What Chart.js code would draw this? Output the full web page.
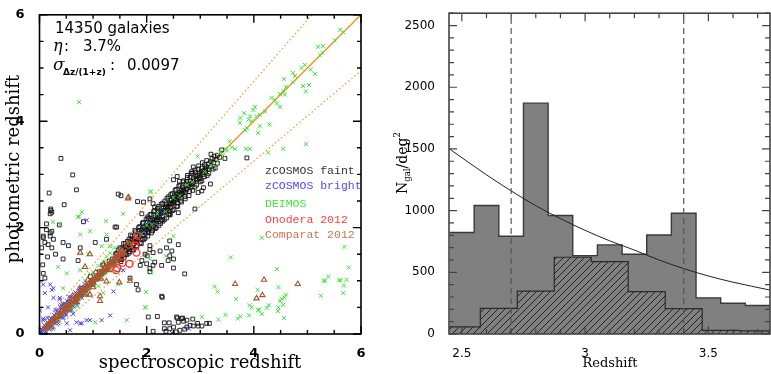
<!DOCTYPE html>
<html>
<head>
<meta charset="utf-8">
<script src="https://cdn.jsdelivr.net/npm/chart.js@4.4.0/dist/chart.umd.min.js"></script>
<style>
  html, body { margin: 0; padding: 0; background: #fff; }
  #wrap { position: relative; width: 771px; height: 374px; }
  #zChart { position: absolute; left: 0; top: 0; }
  #histChart { position: absolute; left: 380px; top: 0; }
</style>
</head>
<body>
<div id="wrap">
  <canvas id="zChart" width="372" height="374"></canvas>
  <canvas id="histChart" width="391" height="374"></canvas>
</div>
<script>
// ---- left panel : photo-z vs spec-z ----

const nGal = 14350;
const etaPct = 3.7;
const sigmaNmad = 0.0097;
const etaCut = 0.15;

const zTicks = [0, 2, 4, 6];

// zCOSMOS faint (open squares)
const zcosmosFaint = [
  [1.36,1.41],[1.39,1.30],[1.42,1.50],[1.45,1.38],[1.47,1.58],[1.50,1.46],[1.52,1.36],[1.54,1.62],[1.56,1.52],[1.58,1.44],
  [1.60,1.70],[1.62,1.58],[1.63,1.49],[1.65,1.66],[1.67,1.78],[1.68,1.55],[1.70,1.72],[1.72,1.63],[1.73,1.84],[1.75,1.70],
  [1.76,1.58],[1.78,1.80],[1.79,1.92],[1.81,1.74],[1.82,1.66],[1.84,1.88],[1.85,1.79],[1.87,2.02],[1.88,1.84],[1.90,1.70],
  [1.91,1.95],[1.93,1.86],[1.94,2.10],[1.96,1.93],[1.97,1.80],[1.99,2.04],[2.00,1.96],[2.02,2.20],[2.03,1.90],[2.05,2.08],
  [2.06,1.98],[2.08,2.25],[2.09,2.05],[2.11,1.94],[2.12,2.16],[2.14,2.08],[2.15,2.32],[2.17,2.12],[2.18,2.00],[2.20,2.24],
  [2.21,2.15],[2.23,2.40],[2.24,2.20],[2.26,2.08],[2.27,2.30],[2.29,2.22],[2.30,2.46],[2.32,2.28],[2.33,2.15],[2.35,2.38],
  [2.36,2.30],[2.38,2.55],[2.39,2.36],[2.41,2.24],[2.42,2.46],[2.44,2.38],[2.45,2.62],[2.47,2.44],[2.48,2.32],[2.50,2.56],
  [2.51,2.48],[2.53,2.70],[2.54,2.52],[2.56,2.40],[2.57,2.62],[2.59,2.56],[2.60,2.78],[2.62,2.60],[2.63,2.50],[2.65,2.70],
  [2.66,2.64],[2.68,2.86],[2.70,2.68],[2.71,2.58],[2.73,2.80],[2.75,2.72],[2.76,2.94],[2.78,2.78],[2.80,2.68],[2.82,2.88],
  [2.84,2.82],[2.86,3.02],[2.88,2.86],[2.90,2.76],[2.92,2.96],[2.94,2.90],[2.96,3.10],[2.98,2.94],[3.00,2.86],[3.02,3.06],
  [3.05,3.00],[3.08,3.18],[3.10,3.06],[3.13,2.98],[3.16,3.20],[3.19,3.14],[3.22,3.30],[3.25,3.22],[3.28,3.12],[3.32,3.36],
  [3.36,3.32],[3.40,3.46],
  [1.44,1.52],[1.49,1.41],[1.55,1.48],[1.61,1.64],[1.66,1.60],[1.71,1.78],[1.77,1.75],[1.83,1.78],[1.86,1.94],[1.89,1.90],
  [1.92,1.78],[1.95,2.00],[1.98,1.90],[2.01,2.10],[2.04,2.00],[2.07,2.14],[2.10,2.10],[2.13,2.02],[2.16,2.20],[2.19,2.14],
  [2.22,2.30],[2.25,2.26],[2.28,2.14],[2.31,2.36],[2.34,2.32],[2.37,2.44],[2.40,2.40],[2.43,2.30],[2.46,2.52],[2.49,2.48],
  [2.52,2.60],[2.55,2.58],[2.58,2.46],[2.61,2.66],[2.64,2.62],[2.67,2.76],[2.69,2.72],[2.72,2.66],[2.74,2.86],[2.77,2.82],
  [2.81,2.94],[2.83,2.76],[2.87,2.92],[2.91,3.04],[2.95,2.98],[2.99,3.02],[3.03,3.12],[3.07,3.08],[3.11,3.14],[3.15,3.10],
  [3.20,3.24],[3.26,3.34],[3.30,3.28],
  [1.50,1.62],[1.53,1.40],[1.57,1.70],[1.60,1.50],[1.64,1.74],[1.67,1.52],[1.70,1.86],[1.74,1.58],[1.78,1.95],[1.81,1.64],
  [1.85,2.00],[1.88,1.72],[1.92,2.08],[1.95,1.78],[1.99,2.16],[2.02,1.84],[2.06,2.24],[2.09,1.90],[2.13,2.30],[2.16,1.98],
  [2.20,2.36],[2.23,2.04],[2.27,2.44],[2.30,2.12],[2.34,2.50],[2.37,2.18],[2.41,2.58],[2.44,2.24],[2.48,2.64],[2.51,2.34],
  [2.55,2.72],[2.58,2.40],[2.62,2.80],[2.65,2.48],[2.69,2.88],[2.72,2.54],[2.76,2.98],[2.79,2.60],[2.83,3.02],[2.86,2.70],
  [2.90,3.08],[2.93,2.80],[2.97,3.16],[3.00,2.92],[3.04,3.22],[3.08,2.96],[3.12,3.26],[3.16,3.02],[3.20,3.38],[3.24,3.10],
  [1.58,1.60],[1.64,1.64],[1.69,1.68],[1.74,1.76],[1.80,1.79],[1.84,1.84],[1.90,1.91],[1.96,1.97],[2.02,2.02],[2.08,2.08],
  [2.14,2.14],[2.20,2.19],[2.26,2.27],[2.32,2.32],[2.38,2.39],[2.44,2.45],[2.50,2.50],[2.56,2.55],[2.62,2.63],[2.68,2.69],
  [2.74,2.74],[2.80,2.80],[2.86,2.85],[2.92,2.92],[2.98,2.98],[3.04,3.04],[3.10,3.10],
  [0.40,3.30],[0.62,2.99],[0.69,2.71],[0.18,2.65],[0.46,2.43],[0.21,2.32],[0.20,2.26],[0.13,2.07],[0.37,2.05],[1.52,2.60],
  [1.83,2.49],[1.44,2.01],[0.23,1.93],[0.21,2.35],[0.23,2.29],[0.07,1.84],[0.20,1.90],[0.26,1.78],[0.10,1.72],[0.16,1.68],
  [0.23,1.62],[0.04,1.62],[0.82,2.11],[1.47,2.63],[1.81,0.93],[2.28,0.71],[2.56,0.32],[2.65,0.29],[2.75,0.26],[2.81,0.16],
  [2.50,0.13],[2.62,0.07],[2.20,0.33],[2.29,0.69],[2.71,1.13],[2.33,0.21],[2.42,0.21],[2.33,0.10],[2.43,0.10],[2.36,0.05],
  [2.12,0.05],[2.57,0.30],[2.67,0.30],[2.86,0.28],[2.69,0.24],[2.59,0.22],[2.75,0.13],[2.87,0.15],[2.95,0.20],[2.96,0.15],
  [3.03,0.15],[3.12,0.20],[3.17,0.20],[2.71,0.09],[2.55,0.04],
  [2.06,1.59],[2.12,1.53],[2.01,1.47],[2.25,1.56],[2.37,1.62],[2.47,1.56],[2.43,1.47],[2.50,1.41],[2.40,1.38],[1.91,1.38],
  [2.00,1.32],[2.12,1.29],[2.28,1.29],[2.50,1.24],[2.06,1.17],[2.59,1.68],[2.43,1.75],[2.90,2.35],[2.03,1.93],[2.06,1.66],
  [1.97,1.50],[1.88,1.29],[1.69,1.05],[2.06,1.23],[2.15,1.35],[1.84,0.83],
  [1.41,2.01],[1.25,1.78],[1.04,1.72],[0.76,1.62],[0.54,1.66],[0.44,1.72],[0.20,1.84],[0.13,1.96],[0.07,1.81],[0.44,1.41],
  [0.72,1.38],[0.07,1.14],[2.03,0.32],[0.06,1.30],[0.15,1.45],[0.30,1.50],[0.10,1.05],
  [2.50,2.90],[2.57,2.96],[2.61,2.87],[2.87,3.14],[2.84,3.05],[3.03,2.88],[3.19,2.82],[3.06,2.75],[2.96,2.66],[2.62,2.63],
  [2.47,2.45],[2.59,2.28],[2.43,2.26],[3.87,3.31],[3.46,3.30],[3.32,3.21],[1.94,2.48],[2.06,2.54],[2.12,2.45],[1.91,2.26],
  [2.03,2.17],[2.15,2.39],[3.03,2.69],
  [0.55,0.60],[0.80,0.86],[1.00,0.95],[1.12,1.17],[1.22,1.18],[1.30,1.37],[1.18,1.30],[0.95,1.08]
];

// zCOSMOS bright (blue crosses)
const zcosmosBright = [
  [0.02,0.03],[0.04,0.02],[0.05,0.08],[0.07,0.05],[0.08,0.11],[0.10,0.07],[0.11,0.14],[0.13,0.10],[0.14,0.17],[0.16,0.13],
  [0.17,0.20],[0.19,0.16],[0.20,0.24],[0.22,0.19],[0.23,0.27],[0.25,0.22],[0.26,0.30],[0.28,0.25],[0.29,0.34],[0.31,0.28],
  [0.32,0.37],[0.34,0.30],[0.35,0.40],[0.37,0.34],[0.38,0.43],[0.40,0.36],[0.41,0.46],[0.43,0.39],[0.44,0.50],[0.46,0.42],
  [0.47,0.52],[0.49,0.45],[0.50,0.56],[0.52,0.48],[0.54,0.60],[0.56,0.52],[0.58,0.63],[0.60,0.55],[0.62,0.68],[0.64,0.60],
  [0.66,0.72],[0.68,0.63],[0.70,0.76],[0.72,0.67],[0.74,0.80],[0.76,0.72],[0.78,0.84],[0.80,0.76],[0.83,0.88],[0.86,0.82],
  [0.89,0.95],[0.92,0.88],[0.96,1.02],[1.00,0.95],[1.05,1.10],[1.10,1.06],
  [0.03,0.09],[0.06,0.00],[0.09,0.16],[0.12,0.04],[0.15,0.22],[0.18,0.09],[0.21,0.30],[0.24,0.14],[0.27,0.36],[0.30,0.20],
  [0.33,0.44],[0.36,0.26],[0.39,0.50],[0.42,0.31],[0.45,0.56],[0.48,0.37],[0.51,0.62],[0.55,0.44],[0.59,0.70],[0.63,0.52],
  [0.67,0.78],[0.71,0.60],[0.75,0.86],[0.79,0.68],[0.84,0.94],[0.88,0.76],
  [1.80,1.86],[1.95,1.92],[2.05,2.10],[2.30,2.28],[1.52,1.55],
  [0.07,0.93],[0.23,0.83],[0.26,0.68],[0.38,0.65],[0.44,0.56],[0.57,0.44],[0.69,0.22],[0.79,0.20],[0.88,0.26],[0.51,0.20],
  [0.20,0.13],[0.13,0.04],[0.57,0.07],[0.01,0.44],[0.07,0.29],[0.88,2.14],[1.38,0.80],[1.56,1.20],[0.20,0.93],[0.26,0.86],
  [0.10,0.77],[0.38,0.68],[0.63,0.38],[0.76,0.20],[0.94,0.26],[1.16,0.26],[1.32,0.35],[0.16,0.50],[0.07,0.26],[2.79,0.10],
  [2.47,0.02],[0.30,0.45],[0.40,0.55],[0.50,0.36],[0.60,0.45],[0.35,0.20],[0.15,0.30],[0.25,0.10],[0.45,0.30],[0.70,0.55],
  [0.55,0.70]
];

// DEIMOS (green crosses)
const deimos = [
  [0.10,0.08],[0.14,0.16],[0.18,0.15],[0.22,0.24],[0.26,0.22],[0.30,0.31],[0.34,0.30],[0.38,0.38],[0.42,0.39],[0.46,0.47],
  [0.50,0.46],[0.54,0.55],[0.58,0.54],[0.62,0.63],[0.66,0.62],[0.70,0.72],[0.74,0.70],[0.78,0.80],[0.82,0.78],[0.86,0.88],
  [0.90,0.86],[0.95,0.97],[1.00,0.98],[1.05,1.08],[1.10,1.05],[1.16,1.20],[1.22,1.18],[1.28,1.33],[1.34,1.30],[1.40,1.46],
  [1.46,1.42],[1.52,1.58],[1.58,1.55],[1.65,1.70],[1.72,1.70],[1.80,1.84],[1.90,1.88],[2.00,2.05],[2.10,2.06],[2.20,2.26],
  [2.35,2.30],[2.50,2.56],[2.62,2.60],[2.75,2.80],[2.85,2.86],
  [0.20,0.12],[0.28,0.20],[0.36,0.28],[0.44,0.36],[0.52,0.44],[0.60,0.52],[0.68,0.60],[0.76,0.68],[0.84,0.76],[0.92,0.84],
  [1.02,0.92],[1.12,1.02],[1.22,1.12],[1.32,1.22],[1.42,1.34],
  [0.85,1.00],[1.00,1.16],[1.10,1.28],[1.20,1.36],[1.25,1.45],[1.32,1.52],[0.95,1.12],[1.40,1.62],[0.60,0.45],[0.70,0.52],
  [0.90,0.74],[1.10,0.90],
  [5.61,5.72],[5.67,5.67],[5.51,5.52],[5.29,5.41],[5.20,5.40],[5.28,5.29],[5.23,5.24],[4.95,5.06],[4.89,5.00],[5.06,4.97],
  [5.14,4.89],[4.73,4.91],[4.77,4.85],[4.56,4.79],[4.73,4.73],[4.92,4.66],[5.03,4.68],[4.97,4.56],[4.60,4.64],[4.55,4.57],
  [4.49,4.51],[4.58,4.50],[4.33,4.44],[4.39,4.40],[4.43,4.33],[4.49,4.27],[4.21,4.18],[4.02,4.27],[3.99,4.21],[4.11,4.12],
  [4.05,4.09],[3.93,4.09],[3.82,4.15],[3.75,4.06],[3.90,4.03],[3.96,4.00],[4.29,3.94],[4.11,3.91],[3.87,3.87],[3.74,3.97],
  [3.84,3.83],[4.08,3.78],[3.85,3.48],[3.93,3.48],[4.27,3.41],[4.55,3.48],[4.97,3.57],[3.59,3.51],[3.65,3.48],[3.46,3.48],
  [3.50,3.45],[3.37,3.42],[3.43,3.36],[3.32,3.24],[2.95,3.34],[3.20,3.17],[3.08,3.05],[3.55,3.62],
  [0.77,5.73],[0.74,4.36],[2.07,2.67],[0.79,2.29],[0.74,2.21],[0.25,2.11],[1.24,2.12],[0.94,1.93],[1.56,2.26],[0.38,2.06],
  [2.08,2.68],[0.72,2.20],[0.76,1.87],[0.91,1.50],[1.25,1.87],[1.32,1.65],[1.16,1.65],[1.41,1.17],[1.47,0.93],[1.19,0.77],
  [0.51,1.14],[0.44,0.86],[0.35,1.26],[0.76,1.20],[1.97,0.50],[1.63,0.26],[1.04,0.22],[2.06,1.41],
  [4.15,1.81],[5.69,1.64],[3.57,1.44],[5.77,1.25],[4.43,1.22],[5.39,1.08],[5.30,1.00],[5.33,1.00],[5.59,1.01],[5.62,1.01],
  [5.73,1.02],[5.68,0.91],[3.27,0.89],[3.32,0.80],[4.46,0.88],[4.07,0.83],[5.67,0.77],[5.25,0.72],[4.60,0.74],[4.57,0.69],
  [4.52,0.66],[4.49,0.62],[3.67,0.66],[3.92,0.54],[3.96,0.50],[4.28,0.54],[4.24,0.49],[4.55,0.55],[4.46,0.50],[4.45,0.43],
  [4.10,0.46],[4.08,0.45],[4.15,0.38],[3.47,0.36],[3.75,0.33],[3.70,0.29],[3.91,0.35],[4.56,0.30],[3.03,0.32],[3.34,0.27],
  [1.99,0.79],[1.98,0.50],[2.09,1.16],[2.36,1.47],[2.50,1.84]
];

// Onodera 2012 (red circles)
const onodera = [
  [1.82,1.85],[1.81,1.75],[1.66,1.68],[1.81,1.53],[1.68,1.32],[1.55,1.34],[1.53,1.53],[1.43,1.20],[1.45,1.24],[1.79,1.66]
];

// Comparat 2012 (brown triangles)
const comparat = [
  [0.10,0.10],[0.13,0.15],[0.15,0.12],[0.18,0.20],[0.20,0.17],[0.23,0.25],[0.25,0.22],[0.28,0.30],[0.30,0.27],[0.33,0.35],
  [0.35,0.32],[0.38,0.40],[0.40,0.37],[0.43,0.45],[0.45,0.42],[0.48,0.50],[0.50,0.47],[0.53,0.55],[0.55,0.52],[0.58,0.60],
  [0.60,0.57],[0.63,0.65],[0.65,0.62],[0.68,0.70],[0.70,0.67],[0.73,0.75],[0.75,0.72],[0.78,0.80],[0.80,0.77],[0.83,0.85],
  [0.85,0.82],[0.88,0.90],[0.90,0.87],[0.93,0.95],[0.95,0.92],[0.98,1.00],[1.00,0.97],[1.03,1.05],[1.05,1.02],[1.08,1.10],
  [1.10,1.07],[1.13,1.15],[1.15,1.12],[1.18,1.20],[1.20,1.17],[1.23,1.25],[1.25,1.22],[1.28,1.30],[1.30,1.27],[1.33,1.35],
  [1.35,1.32],[1.38,1.40],[1.40,1.37],[1.43,1.45],[1.46,1.44],[1.50,1.52],[1.54,1.50],
  [0.12,0.14],[0.17,0.15],[0.22,0.23],[0.27,0.25],[0.32,0.33],[0.37,0.35],[0.42,0.43],[0.47,0.45],[0.52,0.53],[0.57,0.55],
  [0.62,0.63],[0.67,0.65],[0.72,0.73],[0.77,0.75],[0.82,0.83],[0.87,0.85],[0.92,0.93],[0.97,0.95],[1.02,1.03],[1.07,1.05],
  [1.12,1.13],[1.17,1.15],[1.22,1.23],[1.27,1.25],[1.32,1.33],[1.37,1.35],[1.42,1.43],[1.47,1.48],
  [0.62,0.72],[0.75,0.86],[0.90,1.02],[1.05,1.16],[1.20,1.32],[0.70,0.60],[0.85,0.74],[1.00,0.88],[1.15,1.04],[1.30,1.20],
  [0.45,0.54],[0.55,0.46],
  [1.65,2.55],[1.66,2.57],[0.94,1.50],[0.76,1.53],[1.00,0.99],[0.94,0.74],[1.25,0.99],[1.69,1.00],[0.85,1.26],[1.13,0.62],
  [1.49,0.97],[1.13,0.71],[3.65,0.94],[4.19,1.02],[4.82,0.94],[4.16,0.73],[4.05,0.67]
];

const legendNames = ['zCOSMOS faint', 'zCOSMOS bright', 'DEIMOS', 'Onodera 2012', 'Comparat 2012'];
const legendColors = ['#333333', '#4a4aff', '#3fe83f', '#ff3c3c', '#c8764e'];

// ---- right panel : redshift histogram ----

const histBins = [2.5, 2.6, 2.7, 2.8, 2.9, 3.0, 3.1, 3.2, 3.3, 3.4, 3.5, 3.6, 3.7];
const allCounts = [823, 1041, 792, 1871, 960, 635, 722, 646, 802, 979, 293, 249, 231];
const specBins = [2.5, 2.65, 2.8, 2.95, 3.1, 3.25, 3.4, 3.55, 3.7];
const specCounts = [57, 208, 348, 622, 586, 343, 205, 30, 25];
const modelZ = [2.45, 2.6, 2.7, 2.8, 2.9, 3.0, 3.1, 3.2, 3.3, 3.4, 3.5, 3.6, 3.75];
const modelN = [1500, 1290, 1160, 1040, 935, 840, 755, 680, 600, 530, 470, 420, 356];
const cutZ = [2.7, 3.4];
const nTicks = [0, 500, 1000, 1500, 2000, 2500];
const histZTicks = [2.5, 3, 3.5];

const toXY = pts => pts.map(p => ({ x: p[0], y: p[1] }));

function stepData(centres, counts, width) {
  const d = centres.map((c, i) => ({ x: c - width / 2, y: counts[i] }));
  d.push({ x: centres[centres.length - 1] + width / 2, y: counts[counts.length - 1] });
  return d;
}

// frame with inward ticks on all four sides
const framePlugin = {
  id: 'frame',
  afterDatasetsDraw(chart, args, o) {
    const { ctx, chartArea: a, scales } = chart;
    const sx = scales.x, sy = scales.y;
    ctx.save();
    ctx.strokeStyle = o.color;
    ctx.lineWidth = o.tickWidth;
    ctx.beginPath();
    const xt = (vals, len) => vals.forEach(v => {
      const p = sx.getPixelForValue(v);
      ctx.moveTo(p, a.bottom); ctx.lineTo(p, a.bottom - len);
      ctx.moveTo(p, a.top); ctx.lineTo(p, a.top + len);
    });
    const yt = (vals, len) => vals.forEach(v => {
      const p = sy.getPixelForValue(v);
      ctx.moveTo(a.left, p); ctx.lineTo(a.left + len, p);
      ctx.moveTo(a.right, p); ctx.lineTo(a.right - len, p);
    });
    xt(o.xMinor, o.minorLen); xt(o.xMajor, o.majorLen);
    yt(o.yMinor, o.minorLen); yt(o.yMajor, o.majorLen);
    ctx.stroke();
    ctx.lineWidth = o.lineWidth;
    ctx.strokeRect(a.left, a.top, a.right - a.left, a.bottom - a.top);
    ctx.restore();
  }
};

function range(from, to, step) {
  const out = [];
  for (let v = from; v <= to + 1e-9; v += step) out.push(Math.round(v * 1000) / 1000);
  return out;
}

// left panel texts
const zTextPlugin = {
  id: 'zText',
  afterDraw(chart) {
    const ctx = chart.ctx;
    ctx.save();
    ctx.fillStyle = '#000';
    ctx.textBaseline = 'alphabetic';
    ctx.font = "15px 'DejaVu Sans'";
    ctx.fillText(nGal + ' galaxies', 55, 33);
    ctx.font = "italic 16px 'DejaVu Serif'";
    ctx.fillText('η', 53, 51);
    ctx.font = "15px 'DejaVu Sans'";
    ctx.fillText(':', 64, 51);
    ctx.fillText(etaPct.toFixed(1) + '%', 83, 51);
    ctx.font = "italic 17px 'DejaVu Serif'";
    ctx.fillText('σ', 53, 70);
    ctx.font = "bold 9px 'DejaVu Sans'";
    ctx.fillText('Δz/(1+z)', 63, 75);
    ctx.font = "15px 'DejaVu Sans'";
    ctx.fillText(':', 110, 70);
    ctx.fillText(sigmaNmad.toFixed(4), 127, 70);

    const legendY = [174, 189, 207, 223, 238];
    ctx.font = "11.5px 'Liberation Mono'";
    legendNames.forEach((name, i) => {
      ctx.fillStyle = legendColors[i];
      ctx.fillText(name, 265, legendY[i]);
    });

    ctx.fillStyle = '#000';
    ctx.font = "18px 'DejaVu Serif'";
    ctx.textAlign = 'center';
    ctx.fillText('spectroscopic redshift', 200, 368);
    ctx.translate(19, 169);
    ctx.rotate(-Math.PI / 2);
    ctx.fillText('photometric redshift', 0, 0);
    ctx.restore();
  }
};

// right panel texts
const histTextPlugin = {
  id: 'histText',
  afterDraw(chart) {
    const ctx = chart.ctx;
    ctx.save();
    ctx.fillStyle = '#000';
    ctx.textAlign = 'center';
    ctx.font = "13px 'DejaVu Serif'";
    ctx.fillText('Redshift', 230, 367);

    ctx.translate(27, 163);
    ctx.rotate(-Math.PI / 2);
    ctx.textAlign = 'left';
    const big = "14px 'DejaVu Serif'", small = "8.5px 'DejaVu Serif'";
    const parts = [['N', big, 0], ['gal', small, 3], ['/deg', big, 0], ['2', small, -7]];
    let w = 0;
    parts.forEach(p => { ctx.font = p[1]; w += ctx.measureText(p[0]).width; });
    let x = -w / 2;
    parts.forEach(p => {
      ctx.font = p[1];
      ctx.fillText(p[0], x, p[2]);
      x += ctx.measureText(p[0]).width;
    });
    ctx.restore();
  }
};

function pointSet(label, pts, style, radius, color, width, order) {
  return {
    label: label,
    data: toXY(pts),
    pointStyle: style,
    pointRadius: radius,
    pointBorderColor: color,
    pointBackgroundColor: 'rgba(0,0,0,0)',
    pointBorderWidth: width,
    order: order
  };
}

const lineX = [0, 6];

const zConfig = {
  type: 'scatter',
  data: {
    datasets: [
      pointSet('Onodera 2012', onodera, 'circle', 3.5, '#ff2a2a', 1.3, 0),
      pointSet('Comparat 2012', comparat, 'triangle', 3, '#a8552f', 1.1, 1),
      pointSet('DEIMOS', deimos, 'crossRot', 2.8, '#33e633', 1, 2),
      pointSet('zCOSMOS bright', zcosmosBright, 'crossRot', 2.8, '#3a3aff', 1, 3),
      pointSet('zCOSMOS faint', zcosmosFaint, 'rect', 2.7, 'rgba(20,20,20,0.9)', 1, 4),
      {
        label: 'one-to-one',
        data: lineX.map(x => ({ x: x, y: x })),
        showLine: true, pointRadius: 0, borderColor: '#ff8c1a', borderWidth: 1.3, order: 5
      },
      {
        label: 'upper',
        data: lineX.map(x => ({ x: x, y: x + etaCut * (1 + x) })),
        showLine: true, pointRadius: 0, borderColor: '#ff9a2e', borderWidth: 1.3,
        borderDash: [1.5, 2.5], order: 5
      },
      {
        label: 'lower',
        data: lineX.map(x => ({ x: x, y: x - etaCut * (1 + x) })),
        showLine: true, pointRadius: 0, borderColor: '#ff9a2e', borderWidth: 1.3,
        borderDash: [1.5, 2.5], order: 5
      }
    ]
  },
  options: {
    responsive: false,
    animation: false,
    events: [],
    layout: { padding: { top: 5, right: 11, left: 0, bottom: 0 } },
    scales: {
      x: {
        type: 'linear', min: 0, max: 6,
        afterBuildTicks: s => { s.ticks = zTicks.map(v => ({ value: v })); },
        afterFit: s => { s.height = 40; },
        grid: { display: false },
        border: { display: false },
        ticks: { color: '#000', padding: 4, callback: v => String(v),
                 font: { family: 'DejaVu Sans', size: 13, weight: 'bold' } }
      },
      y: {
        type: 'linear', min: 0, max: 6,
        afterBuildTicks: s => { s.ticks = zTicks.map(v => ({ value: v })); },
        afterFit: s => { s.width = 39.5; },
        grid: { display: false },
        border: { display: false },
        ticks: { color: '#000', padding: 7, callback: v => String(v),
                 font: { family: 'DejaVu Sans', size: 13, weight: 'bold' } }
      }
    },
    plugins: {
      legend: { display: false },
      tooltip: { enabled: false },
      frame: {
        color: '#000', lineWidth: 1.6, tickWidth: 1.4,
        xMajor: zTicks, xMinor: range(0, 6, 0.5),
        yMajor: zTicks, yMinor: range(0, 6, 0.5),
        majorLen: 8, minorLen: 4
      }
    }
  },
  plugins: [framePlugin, zTextPlugin]
};

const histCanvas = document.getElementById('histChart');

function hatchPattern() {
  const c = document.createElement('canvas');
  c.width = 7; c.height = 7;
  const g = c.getContext('2d');
  g.fillStyle = '#808080';
  g.fillRect(0, 0, 7, 7);
  g.strokeStyle = '#1a1a1a';
  g.lineWidth = 0.9;
  g.beginPath();
  g.moveTo(-1, 8); g.lineTo(8, -1);
  g.stroke();
  return histCanvas.getContext('2d').createPattern(c, 'repeat');
}

const histConfig = {
  type: 'line',
  data: {
    datasets: [
      {
        label: 'all',
        data: stepData(histBins, allCounts, 0.1),
        stepped: 'before', fill: 'origin',
        backgroundColor: '#808080', borderColor: '#3a3a3a', borderWidth: 1.4, order: 3
      },
      {
        label: 'spec',
        data: stepData(specBins, specCounts, 0.15),
        stepped: 'before', fill: 'origin',
        backgroundColor: hatchPattern(), borderColor: '#2a2a2a', borderWidth: 1.2, order: 2
      },
      {
        label: 'model',
        data: modelZ.map((z, i) => ({ x: z, y: modelN[i] })),
        cubicInterpolationMode: 'monotone',
        borderColor: '#222', borderWidth: 1, fill: false, order: 1
      },
      ...cutZ.map(z => ({
        label: 'cut ' + z,
        data: [{ x: z, y: 0 }, { x: z, y: 2600 }],
        borderColor: '#555', borderWidth: 1.2, borderDash: [6, 4], fill: false, order: 0
      }))
    ]
  },
  options: {
    responsive: false,
    animation: false,
    events: [],
    elements: { point: { radius: 0 } },
    layout: { padding: { top: 0, right: 1, left: 0, bottom: 0 } },
    scales: {
      x: {
        type: 'linear', min: 2.448, max: 3.75,
        afterBuildTicks: s => { s.ticks = histZTicks.map(v => ({ value: v })); },
        afterFit: s => { s.height = 40; },
        grid: { display: false },
        border: { display: false },
        ticks: { color: '#000', padding: 5, callback: v => String(v),
                 font: { family: 'DejaVu Sans', size: 12 } }
      },
      y: {
        type: 'linear', min: 0, max: 2600,
        afterBuildTicks: s => { s.ticks = nTicks.map(v => ({ value: v })); },
        afterFit: s => { s.width = 69; },
        grid: { display: false },
        border: { display: false },
        ticks: { color: '#000', padding: 6, callback: v => String(v),
                 font: { family: 'DejaVu Sans', size: 12 } }
      }
    },
    plugins: {
      legend: { display: false },
      tooltip: { enabled: false },
      frame: {
        color: '#444', lineWidth: 1.6, tickWidth: 1.2,
        xMajor: histZTicks, xMinor: range(2.5, 3.7, 0.1),
        yMajor: nTicks, yMinor: range(0, 2600, 100),
        majorLen: 8, minorLen: 5
      }
    }
  },
  plugins: [framePlugin, histTextPlugin]
};

new Chart(document.getElementById('zChart'), zConfig);
new Chart(histCanvas, histConfig);
</script>
</body>
</html>
